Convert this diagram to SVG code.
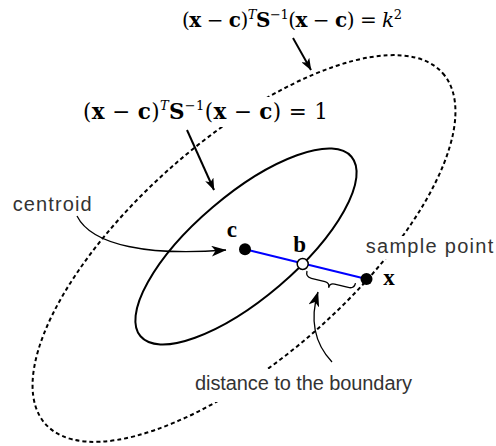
<svg xmlns="http://www.w3.org/2000/svg" width="496" height="446" viewBox="0 0 496 446">
<style>
.m{font-family:"DejaVu Serif","Liberation Serif",serif;fill:#000}
.bd{font-weight:bold}
.it{font-style:italic}
.sup{font-size:13px}
.lbl{font-family:"Liberation Serif","DejaVu Serif",serif;font-weight:bold;font-size:23px;fill:#000}
.s{font-family:"Liberation Sans",Arial,sans-serif;font-size:20px;fill:#333}
.bg{fill:#fff;stroke:none}
.thick{stroke:#000;stroke-width:2;fill:none}
.thin{stroke:#000;stroke-width:1.3;fill:none}
</style>
<defs>
<marker id="ah" markerUnits="userSpaceOnUse" markerWidth="12" markerHeight="9" viewBox="0 0 12 9" refX="11.5" refY="4.5" orient="auto"><path d="M0,0 L12,4.5 L0,9 L3,4.5 Z" fill="#000"/></marker>
<marker id="ahl" markerUnits="userSpaceOnUse" markerWidth="15" markerHeight="11" viewBox="0 0 15 11" refX="14.5" refY="5.5" orient="auto"><path d="M0,0 L15,5.5 L0,11 L4,5.5 Z" fill="#000"/></marker>
</defs>

<g id="outer-contour">
<ellipse cx="244" cy="248.5" rx="265" ry="109" transform="rotate(-41.4 244 248.5)" fill="none" stroke="#000" stroke-width="2" stroke-dasharray="4 3"/>
</g>
<g id="inner-contour">
<ellipse cx="246" cy="246.5" rx="138.5" ry="51.5" transform="rotate(-40.4 246 246.5)" fill="none" stroke="#000" stroke-width="2"/>
</g>

<g id="label-k2">
<text class="m" x="182" y="27" font-size="20" textLength="220">(<tspan class="bd">x</tspan> − <tspan class="bd">c</tspan>)<tspan class="sup it" dy="-8">T</tspan><tspan class="bd" dy="8">S</tspan><tspan class="sup" dy="-8">−1</tspan><tspan dy="8">(</tspan><tspan class="bd">x</tspan> − <tspan class="bd">c</tspan>) = <tspan class="it">k</tspan><tspan class="sup" dy="-8">2</tspan></text>
</g>
<g id="label-1">
<rect class="bg" x="80" y="97" width="252" height="30"/>
<text class="m" x="83" y="119" font-size="21.5" textLength="245">(<tspan class="bd">x</tspan> − <tspan class="bd">c</tspan>)<tspan class="sup it" dy="-9">T</tspan><tspan class="bd" dy="9">S</tspan><tspan class="sup" dy="-9">−1</tspan><tspan dy="9">(</tspan><tspan class="bd">x</tspan> − <tspan class="bd">c</tspan>) = 1</text>
</g>
<g id="label-centroid">
<text class="s" x="12.7" y="210.7" textLength="79">centroid</text>
</g>
<g id="label-sample">
<rect class="bg" x="363" y="236" width="133" height="23"/>
<text class="s" x="365.7" y="253" textLength="127.6">sample point</text>
</g>
<g id="label-distance">
<rect class="bg" x="192" y="369" width="223" height="33"/>
<text class="s" x="195" y="390" textLength="217">distance to the boundary</text>
</g>

<g id="connectors">
<path class="thick" d="M293,38 L311,70" marker-end="url(#ah)"/>
<path class="thick" d="M187,130 L214,190" marker-end="url(#ah)"/>
<path class="thin" d="M77,216 C92,246 150,256 226,250" marker-end="url(#ahl)"/>
<path class="thin" d="M332,362 C316,345 309,322 318,292" marker-end="url(#ahl)"/>
<path class="thin" transform="translate(307,271) rotate(14)" d="M0,0 C0,4 2,6 6,6 L20,6 C23,6 25,8 25,11 C25,8 27,6 30,6 L44,6 C48,6 50,4 50,0"/>
<path d="M245,249.3 L366.5,279" stroke="#0000ff" stroke-width="2" fill="none"/>
</g>

<g id="point-c">
<circle cx="245" cy="249.3" r="6" fill="#000"/>
<text class="lbl" x="226.7" y="236.7">c</text>
</g>
<g id="point-b">
<circle cx="302.7" cy="264" r="5.5" fill="#fff" stroke="#000" stroke-width="1.5"/>
<text class="lbl" x="293.3" y="251.7">b</text>
</g>
<g id="point-x">
<circle cx="366.5" cy="279" r="6" fill="#000"/>
<text class="lbl" x="383.3" y="285">x</text>
</g>
</svg>
